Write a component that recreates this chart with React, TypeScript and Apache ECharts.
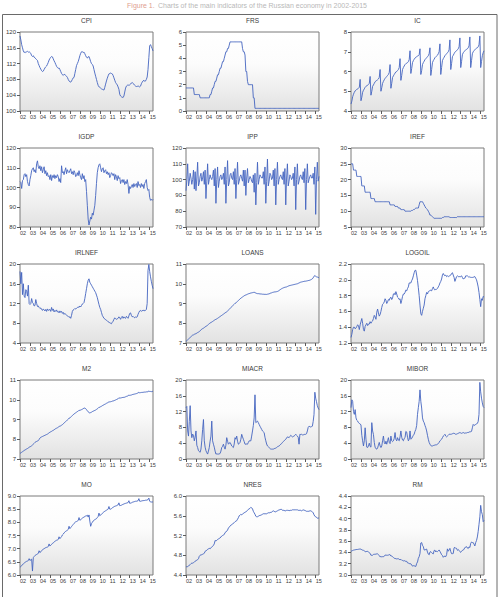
import React, { useEffect, useRef } from "react";
import * as echarts from "echarts";

// Monthly observations, 2002M01 .. 2015M05 (161 months per series)
const YEAR0 = 2002;

const CPI = [
  119.0, 118.0, 116.8, 116.0, 115.2, 114.8, 115.0, 114.8, 115.0, 115.1, 114.9, 115.0,
  114.8, 114.6, 114.0, 113.8, 114.0, 113.6, 113.5, 113.2, 113.0, 112.8, 112.0, 111.5,
  111.0, 110.6, 110.2, 110.0, 110.1, 110.5, 110.9, 111.2, 111.4, 111.8, 112.3, 112.9,
  113.3, 113.6, 113.8, 113.7, 113.2, 112.7, 112.3, 111.8, 111.3, 111.0, 110.8, 110.9,
  110.5, 110.0, 109.5, 109.2, 109.0, 109.3, 109.2, 109.0, 108.8, 108.5, 108.0, 107.6,
  107.4, 107.3, 107.6, 108.0, 108.4, 108.5, 109.5, 110.5, 111.5, 112.0, 112.5, 113.2,
  114.0, 114.6, 115.0, 115.0, 114.8, 114.9, 114.5, 114.0, 113.6, 113.4, 113.7, 113.8,
  113.2, 112.5, 112.0, 111.8, 111.4, 110.5, 109.6, 108.8, 108.0, 107.2, 106.5, 106.1,
  106.0, 105.8, 105.6, 105.5, 105.4, 105.3, 106.0, 106.8, 107.6, 108.3, 108.9, 109.4,
  109.5, 109.6, 109.5, 109.4, 109.0, 108.4, 107.8, 107.2, 106.9, 106.6, 106.1, 105.5,
  104.2, 103.8, 103.6, 103.5, 103.4, 103.8, 104.8, 105.8, 106.3, 106.5, 106.6, 106.5,
  106.6, 106.8, 107.1, 107.2, 107.0, 106.8, 106.5, 106.3, 106.2, 106.2, 106.4, 106.2,
  106.1, 106.3, 106.9, 107.3, 107.6, 107.8, 107.5, 107.6, 108.0, 108.6, 110.5, 113.5,
  116.5, 116.8, 116.3, 115.8, 115.2,
];

const FRS = [
  1.75, 1.75, 1.75, 1.75, 1.75, 1.75, 1.75, 1.75, 1.75, 1.75, 1.25, 1.25,
  1.25, 1.25, 1.25, 1.25, 1.25, 1.0, 1.0, 1.0, 1.0, 1.0, 1.0, 1.0,
  1.0, 1.0, 1.0, 1.0, 1.0, 1.25, 1.25, 1.5, 1.75, 1.75, 2.0, 2.25,
  2.25, 2.5, 2.75, 2.75, 3.0, 3.25, 3.25, 3.5, 3.75, 3.75, 4.0, 4.25,
  4.5, 4.5, 4.75, 4.75, 5.0, 5.25, 5.25, 5.25, 5.25, 5.25, 5.25, 5.25,
  5.25, 5.25, 5.25, 5.25, 5.25, 5.25, 5.25, 5.25, 4.75, 4.5, 4.5, 4.25,
  3.0, 3.0, 2.25, 2.0, 2.0, 2.0, 2.0, 2.0, 2.0, 1.0, 1.0, 0.2,
  0.2, 0.2, 0.2, 0.2, 0.2, 0.2, 0.2, 0.2, 0.2, 0.2, 0.2, 0.2,
  0.2, 0.2, 0.2, 0.2, 0.2, 0.2, 0.2, 0.2, 0.2, 0.2, 0.2, 0.2,
  0.2, 0.2, 0.2, 0.2, 0.2, 0.2, 0.2, 0.2, 0.2, 0.2, 0.2, 0.2,
  0.2, 0.2, 0.2, 0.2, 0.2, 0.2, 0.2, 0.2, 0.2, 0.2, 0.2, 0.2,
  0.2, 0.2, 0.2, 0.2, 0.2, 0.2, 0.2, 0.2, 0.2, 0.2, 0.2, 0.2,
  0.2, 0.2, 0.2, 0.2, 0.2, 0.2, 0.2, 0.2, 0.2, 0.2, 0.2, 0.2,
  0.2, 0.2, 0.2, 0.2, 0.2,
];

const IC = [
  4.35, 4.5, 4.72, 4.85, 4.95, 5.02, 5.05, 5.1, 5.12, 5.15, 5.2, 5.6,
  4.52, 4.7, 4.95, 5.05, 5.12, 5.2, 5.25, 5.28, 5.3, 5.35, 5.4, 5.75,
  4.8, 5.0, 5.25, 5.32, 5.4, 5.48, 5.52, 5.55, 5.58, 5.62, 5.7, 6.1,
  5.0, 5.18, 5.4, 5.5, 5.58, 5.65, 5.7, 5.75, 5.8, 5.85, 5.95, 6.35,
  5.15, 5.4, 5.7, 5.78, 5.85, 5.92, 5.98, 6.0, 6.05, 6.1, 6.2, 6.65,
  5.55, 5.8, 6.1, 6.2, 6.28, 6.35, 6.4, 6.42, 6.45, 6.5, 6.6, 7.05,
  5.9, 6.15, 6.45, 6.55, 6.62, 6.68, 6.72, 6.75, 6.78, 6.8, 6.85, 7.15,
  5.85, 6.05, 6.35, 6.45, 6.52, 6.6, 6.65, 6.7, 6.75, 6.8, 6.9, 7.2,
  5.8, 6.1, 6.45, 6.55, 6.62, 6.7, 6.75, 6.78, 6.82, 6.9, 7.0, 7.4,
  5.85, 6.2, 6.55, 6.65, 6.72, 6.8, 6.85, 6.9, 6.95, 7.0, 7.1, 7.6,
  6.1, 6.4, 6.75, 6.82, 6.9, 6.98, 7.02, 7.05, 7.1, 7.15, 7.25, 7.7,
  6.2, 6.5, 6.85, 6.95, 7.0, 7.05, 7.1, 7.12, 7.15, 7.2, 7.3, 7.75,
  6.2, 6.55, 6.9, 7.0, 7.05, 7.1, 7.15, 7.18, 7.2, 7.25, 7.35, 7.8,
  6.2, 6.5, 6.8, 6.95, 7.05,
];

const IGDP = [
  103.0, 102.5, 99.5, 103.5, 104.0, 106.5, 107.0, 105.5, 106.5, 103.0, 101.5, 100.8,
  104.0, 106.0, 108.5, 109.5, 110.0, 108.0, 109.0, 107.5, 112.0, 113.5, 110.5, 109.5,
  111.0, 108.5, 110.5, 107.5, 109.0, 110.5, 107.0, 108.5, 106.0, 107.5, 105.5, 106.0,
  104.0, 106.5, 103.5, 106.0, 105.0, 106.5, 104.5, 106.0, 105.0, 106.5, 105.5, 103.0,
  104.5, 102.5, 111.0, 107.5, 108.0, 106.5, 108.5, 110.0, 107.0, 109.0, 108.0, 107.5,
  108.5, 109.5, 107.0, 108.0, 106.5, 108.5, 107.5, 105.5, 106.0, 107.5, 106.0, 108.5,
  106.5, 105.0, 104.0, 107.0, 104.5, 106.0, 103.0, 104.0, 98.0, 91.0, 84.0, 81.0,
  83.0, 85.0, 84.0, 87.0, 86.0, 88.5, 91.0, 96.0, 102.0, 107.5, 110.0, 111.5,
  112.0, 110.0, 108.0, 109.5, 110.0, 107.5, 108.5, 109.0, 107.0, 108.0, 106.5, 107.5,
  105.0, 106.0, 107.5, 107.0, 106.0, 107.0, 104.0, 106.5, 105.5, 103.5, 106.0, 104.5,
  105.0, 102.0, 103.5, 104.0, 102.5, 104.0, 101.5, 103.0, 102.0, 104.0, 101.5, 97.0,
  100.5, 99.5, 100.5, 101.5, 100.0, 102.0, 100.5, 101.5, 102.0, 100.0, 103.0, 101.0,
  101.5, 100.0, 102.0, 100.5, 101.5, 99.5, 102.0, 103.0, 104.0, 100.0, 98.5, 99.0,
  95.0, 93.5, 94.0, 93.5, 94.0,
];

const IPP = [
  93, 100, 110, 96, 99, 104, 101, 97, 100, 106, 94, 105,
  93, 101, 111, 96, 98, 102, 104, 99, 101, 105, 97, 106,
  88, 99, 110, 97, 100, 103, 101, 100, 102, 106, 96, 107,
  85, 100, 108, 95, 99, 102, 103, 100, 101, 104, 97, 108,
  85, 100, 112, 96, 98, 103, 104, 101, 100, 105, 97, 107,
  88, 100, 111, 97, 99, 102, 103, 101, 99, 106, 96, 106,
  90, 101, 107, 98, 100, 102, 101, 99, 98, 103, 92, 104,
  84, 98, 111, 97, 100, 103, 102, 101, 101, 105, 97, 108,
  85, 99, 113, 96, 99, 104, 103, 100, 101, 106, 96, 107,
  84, 100, 111, 97, 100, 102, 103, 101, 100, 105, 97, 107,
  84, 101, 110, 96, 99, 103, 102, 100, 101, 104, 96, 108,
  81, 100, 110, 97, 99, 102, 103, 101, 100, 105, 98, 107,
  81, 100, 110, 98, 100, 102, 103, 101, 101, 104, 97, 108,
  78, 100, 111, 99, 102,
];

const IREF = [
  25, 25, 25, 23, 23, 23, 23, 21, 21, 21, 21, 21,
  21, 18, 18, 18, 18, 16, 16, 16, 16, 16, 16, 16,
  14, 14, 14, 14, 14, 13, 13, 13, 13, 13, 13, 13,
  13, 13, 13, 13, 13, 13, 13, 13, 13, 13, 13, 12,
  12, 12, 12, 12, 12, 11.5, 11.5, 11.5, 11.5, 11, 11, 11,
  10.5, 10.5, 10.5, 10.5, 10.5, 10, 10, 10, 10, 10, 10, 10,
  10, 10.25, 10.25, 10.5, 10.5, 10.75, 11, 11, 11, 11, 12, 13,
  13, 13, 13, 12.5, 12, 11.5, 11, 10.75, 10.5, 10, 9.5, 8.75,
  8.75, 8.5, 8.25, 8, 7.75, 7.75, 7.75, 7.75, 7.75, 7.75, 7.75, 7.75,
  7.75, 7.75, 8, 8, 8.25, 8.25, 8.25, 8.25, 8.25, 8.25, 8.25, 8,
  8, 8, 8, 8, 8, 8, 8, 8, 8.25, 8.25, 8.25, 8.25,
  8.25, 8.25, 8.25, 8.25, 8.25, 8.25, 8.25, 8.25, 8.25, 8.25, 8.25, 8.25,
  8.25, 8.25, 8.25, 8.25, 8.25, 8.25, 8.25, 8.25, 8.25, 8.25, 8.25, 8.25,
  8.25, 8.25, 8.25, 8.25, 8.25,
];

const IRLNEF = [
  18.5, 16.0, 18.3, 13.8, 16.0, 13.5, 13.2, 14.8, 14.5, 13.5, 15.7, 12.0,
  11.8, 12.0, 13.0, 12.2, 12.0, 11.5, 11.6, 12.8, 12.0, 11.4, 11.5, 11.2,
  11.0, 11.1, 10.8, 10.6, 10.9, 10.7, 10.5, 10.8, 10.4, 10.9, 10.6, 10.7,
  10.8, 10.4, 11.2, 10.6, 10.9, 10.3, 10.6, 10.4, 10.7, 10.3, 10.4, 10.1,
  10.5, 10.2, 10.4, 10.0, 10.2, 9.8, 10.0, 9.8, 9.6, 9.5, 9.4, 9.2,
  9.3, 9.0, 9.6, 10.4, 10.7, 10.8, 11.0, 10.9, 11.0, 11.2, 11.3, 11.2,
  11.5, 11.3, 11.6, 11.9, 12.0, 12.2, 13.0, 14.0, 15.0, 16.0, 16.7, 17.0,
  16.3, 16.0, 15.7, 15.4, 15.1, 14.8, 14.5, 14.2, 13.7, 13.2, 12.5, 11.8,
  11.2, 10.8, 10.2, 9.6, 9.3, 9.0, 8.9, 8.7, 8.6, 8.5, 8.3, 8.2,
  8.1, 8.0, 7.9, 8.2, 8.4, 8.8, 9.1, 8.9, 8.8, 8.9, 9.0, 9.3,
  9.1, 8.8, 9.2, 9.4, 9.0, 9.3, 9.1, 9.0, 9.4, 9.2, 9.0, 9.5,
  10.0, 10.1, 9.6, 9.3, 9.4, 9.2, 9.1, 9.3, 9.2, 9.3, 9.8, 10.2,
  10.5, 10.6, 10.4, 10.6, 10.5, 10.7, 10.5, 10.6, 10.8, 12.0, 18.7, 19.9,
  18.5, 17.4, 16.5, 15.7, 15.0,
];

const LOANS = [
  7.08, 7.12, 7.16, 7.2, 7.24, 7.28, 7.32, 7.36, 7.4, 7.41, 7.44, 7.46,
  7.47, 7.5, 7.53, 7.55, 7.58, 7.62, 7.66, 7.7, 7.73, 7.75, 7.78, 7.82,
  7.84, 7.87, 7.9, 7.94, 7.98, 8.01, 8.04, 8.06, 8.09, 8.12, 8.15, 8.18,
  8.2, 8.22, 8.25, 8.28, 8.31, 8.34, 8.37, 8.4, 8.43, 8.46, 8.49, 8.53,
  8.55, 8.58, 8.62, 8.66, 8.7, 8.75, 8.8, 8.84, 8.88, 8.92, 8.96, 9.01,
  9.03, 9.07, 9.11, 9.15, 9.19, 9.23, 9.27, 9.3, 9.33, 9.36, 9.39, 9.42,
  9.43, 9.45, 9.47, 9.49, 9.5, 9.52, 9.53, 9.54, 9.55, 9.56, 9.57, 9.55,
  9.53, 9.51, 9.5, 9.5, 9.49, 9.49, 9.48, 9.48, 9.47, 9.47, 9.46, 9.47,
  9.46, 9.46, 9.47, 9.48, 9.49, 9.51, 9.53, 9.54, 9.56, 9.57, 9.58, 9.59,
  9.59, 9.6, 9.61, 9.63, 9.66, 9.69, 9.72, 9.75, 9.77, 9.79, 9.81, 9.82,
  9.83, 9.84, 9.86, 9.88, 9.9, 9.91, 9.92, 9.93, 9.94, 9.95, 9.96, 9.97,
  9.98, 9.99, 10.0, 10.02, 10.04, 10.06, 10.08, 10.09, 10.1, 10.11, 10.12, 10.13,
  10.13, 10.14, 10.15, 10.16, 10.17, 10.18, 10.2, 10.22, 10.25, 10.3, 10.38, 10.41,
  10.38, 10.35, 10.34, 10.32, 10.31,
];

const LOGOIL = [
  1.27, 1.31, 1.37, 1.4, 1.4, 1.38, 1.39, 1.41, 1.43, 1.42, 1.37, 1.43,
  1.47, 1.51, 1.45, 1.37, 1.35, 1.41, 1.43, 1.45, 1.42, 1.44, 1.44, 1.47,
  1.45, 1.47, 1.48, 1.51, 1.55, 1.53, 1.5, 1.59, 1.63, 1.58, 1.54, 1.56,
  1.6, 1.65, 1.69, 1.7, 1.72, 1.76, 1.74, 1.7, 1.72, 1.75, 1.74, 1.77,
  1.78, 1.75, 1.77, 1.82, 1.83, 1.81, 1.85, 1.82, 1.78, 1.77, 1.75, 1.76,
  1.7, 1.74, 1.79, 1.82, 1.82, 1.84, 1.87, 1.86, 1.89, 1.91, 1.96, 1.96,
  1.96, 1.99, 2.01, 2.05, 2.09, 2.12, 2.12, 2.06, 1.99, 1.9, 1.8, 1.68,
  1.57, 1.55, 1.6, 1.64, 1.68, 1.76, 1.8, 1.84, 1.82, 1.85, 1.86, 1.86,
  1.87, 1.86, 1.89, 1.91, 1.88, 1.87, 1.88, 1.88, 1.89, 1.91, 1.93, 1.96,
  1.98, 2.01, 2.06, 2.08, 2.06, 2.05, 2.06, 2.04, 2.05, 2.04, 2.05, 2.05,
  2.06, 2.08, 2.09, 2.06, 2.03, 1.98, 2.01, 2.04, 2.05, 2.04, 2.04, 2.04,
  2.04, 2.05, 2.03, 2.01, 2.02, 2.02, 2.05, 2.05, 2.05, 2.04, 2.03, 2.04,
  2.03, 2.03, 2.03, 2.03, 2.04, 2.04, 2.02, 2.0, 1.96, 1.91, 1.84, 1.75,
  1.66, 1.76, 1.74, 1.79, 1.78,
];

const M2 = [
  7.28, 7.31, 7.34, 7.37, 7.4, 7.43, 7.46, 7.48, 7.51, 7.53, 7.56, 7.6,
  7.61, 7.64, 7.67, 7.71, 7.75, 7.79, 7.84, 7.87, 7.89, 7.91, 7.93, 7.99,
  8.06, 8.1, 8.12, 8.14, 8.16, 8.18, 8.2, 8.22, 8.24, 8.26, 8.29, 8.33,
  8.35, 8.38, 8.4, 8.43, 8.45, 8.48, 8.51, 8.54, 8.56, 8.58, 8.61, 8.65,
  8.66, 8.68, 8.71, 8.74, 8.78, 8.82, 8.86, 8.9, 8.94, 8.97, 9.01, 9.07,
  9.08, 9.12, 9.16, 9.2, 9.24, 9.28, 9.31, 9.34, 9.37, 9.4, 9.42, 9.47,
  9.46, 9.48, 9.5, 9.52, 9.55, 9.57, 9.58, 9.55, 9.5, 9.44, 9.39, 9.35,
  9.33, 9.35, 9.37, 9.4, 9.42, 9.44, 9.46, 9.48, 9.51, 9.54, 9.57, 9.62,
  9.62, 9.65, 9.67, 9.7, 9.72, 9.75, 9.77, 9.79, 9.82, 9.84, 9.86, 9.9,
  9.89, 9.9, 9.91, 9.93, 9.94, 9.95, 9.97, 9.99, 10.01, 10.03, 10.05, 10.1,
  10.08, 10.09, 10.1, 10.11, 10.12, 10.12, 10.13, 10.15, 10.17, 10.18, 10.2, 10.24,
  10.22, 10.23, 10.24, 10.26, 10.27, 10.28, 10.29, 10.3, 10.31, 10.33, 10.34, 10.38,
  10.35, 10.36, 10.37, 10.37, 10.38, 10.38, 10.39, 10.39, 10.4, 10.4, 10.41, 10.44,
  10.42, 10.42, 10.41, 10.42, 10.43,
];

const MIACR = [
  13.0, 13.3, 7.1, 5.8, 9.5, 13.5, 7.1, 5.4, 6.3, 6.0, 4.6, 5.5,
  7.1, 3.5, 2.9, 2.1, 1.9, 1.7, 2.5, 4.6, 7.5, 10.0, 4.6, 3.0,
  2.1, 1.6, 1.25, 2.0, 2.9, 4.5, 5.8, 9.6, 4.6, 3.75, 3.0, 2.0,
  1.25, 1.3, 1.25, 1.25, 1.3, 1.4, 2.0, 2.9, 3.2, 3.75, 3.0, 2.5,
  3.5, 5.4, 4.5, 3.75, 4.0, 4.2, 3.8, 3.3, 3.1, 2.9, 3.8, 5.4,
  5.0, 5.8, 4.5, 3.75, 3.9, 4.2, 5.0, 6.25, 5.6, 5.0, 4.4, 3.75,
  3.75, 3.8, 3.75, 4.2, 4.6, 4.6, 4.6, 5.8, 7.1, 8.5, 10.4, 16.25,
  9.2, 9.4, 9.6, 9.2, 8.75, 8.3, 7.9, 7.5, 7.1, 6.9, 6.7, 5.5,
  4.6, 3.8, 3.3, 3.1, 2.9, 2.7, 2.5, 2.5, 2.5, 2.5, 2.6, 2.7,
  2.75, 2.9, 3.1, 3.2, 3.3, 3.5, 3.75, 3.9, 4.2, 4.4, 4.6, 4.8,
  5.0, 5.3, 5.6, 5.5, 5.4, 5.7, 6.0, 5.8, 5.6, 5.7, 5.8, 6.0,
  6.25, 6.0, 5.8, 5.5, 3.75, 6.25, 6.2, 6.25, 6.1, 6.1, 6.2, 6.25,
  6.25, 6.4, 7.1, 8.0, 8.3, 8.2, 8.1, 8.2, 8.3, 9.5, 11.25, 16.9,
  15.4, 14.5, 13.5, 12.9, 12.5,
];

const MIBOR = [
  13.0, 15.0, 14.6, 12.0, 11.3, 12.5, 10.4, 9.8, 9.6, 9.2, 9.0, 8.9,
  8.6, 6.0, 4.6, 3.3, 4.6, 7.9, 5.0, 3.0, 2.9, 3.3, 4.0, 3.2,
  3.0, 9.2, 7.1, 6.2, 4.2, 3.0, 2.6, 2.5, 2.8, 3.5, 4.2, 3.3,
  2.9, 3.3, 4.6, 5.8, 4.2, 3.8, 4.5, 3.75, 4.6, 5.4, 4.2, 3.9,
  5.8, 4.6, 4.4, 4.6, 5.2, 6.7, 5.0, 4.6, 5.4, 4.8, 4.6, 5.6,
  7.1, 5.5, 4.8, 4.6, 5.2, 5.4, 7.0, 6.8, 5.5, 4.6, 5.0, 7.1,
  5.0, 5.2, 5.6, 6.0, 6.3, 7.0, 7.5, 8.5, 11.3, 13.0, 14.6, 17.5,
  14.6, 12.9, 10.4, 9.6, 9.2, 8.5, 7.9, 7.1, 6.0, 5.0, 4.2, 3.75,
  3.4, 3.3, 3.3, 3.4, 3.5, 3.5, 3.6, 3.6, 3.75, 3.9, 4.2, 4.6,
  4.8, 5.0, 5.4, 5.8, 6.0, 6.25, 5.8, 5.6, 5.8, 6.0, 6.25, 6.3,
  6.25, 6.3, 6.4, 6.5, 6.5, 6.4, 6.25, 6.3, 6.4, 6.5, 6.6, 6.7,
  6.6, 6.5, 6.6, 6.7, 6.6, 6.5, 6.6, 6.6, 6.7, 6.7, 6.8, 6.9,
  6.9, 7.0, 7.9, 8.75, 8.5, 8.6, 8.75, 8.9, 9.0, 9.5, 11.3, 19.4,
  17.0, 15.4, 14.2, 13.3, 13.0,
];

const MO = [
  6.3, 6.32, 6.35, 6.4, 6.42, 6.45, 6.48, 6.5, 6.52, 6.53, 6.55, 6.62,
  6.55, 6.58, 6.6, 6.15, 6.66, 6.7, 6.74, 6.76, 6.78, 6.8, 6.82, 6.92,
  6.85, 6.88, 6.92, 6.96, 6.98, 7.0, 7.02, 7.04, 7.05, 7.06, 7.08, 7.18,
  7.1, 7.13, 7.16, 7.2, 7.22, 7.25, 7.28, 7.3, 7.32, 7.33, 7.35, 7.45,
  7.38, 7.42, 7.46, 7.52, 7.55, 7.6, 7.63, 7.66, 7.68, 7.7, 7.73, 7.85,
  7.76, 7.8, 7.84, 7.88, 7.92, 7.96, 7.99, 8.02, 8.03, 8.05, 8.07, 8.18,
  8.08, 8.1, 8.13, 8.16, 8.18, 8.2, 8.22, 8.24, 8.25, 8.27, 8.2, 8.28,
  8.05, 7.85, 7.95, 8.0, 8.05, 8.08, 8.1, 8.12, 8.14, 8.18, 8.22, 8.35,
  8.25, 8.28, 8.3, 8.34, 8.37, 8.4, 8.42, 8.44, 8.46, 8.48, 8.5, 8.6,
  8.5, 8.5, 8.52, 8.55, 8.57, 8.59, 8.61, 8.62, 8.63, 8.65, 8.66, 8.74,
  8.63, 8.64, 8.65, 8.67, 8.68, 8.7, 8.71, 8.72, 8.73, 8.74, 8.75, 8.82,
  8.72, 8.73, 8.74, 8.76, 8.77, 8.78, 8.79, 8.8, 8.8, 8.81, 8.82, 8.9,
  8.8, 8.8, 8.81, 8.82, 8.82, 8.83, 8.83, 8.84, 8.84, 8.85, 8.86, 8.92,
  8.8, 8.78, 8.77, 8.78, 8.76,
];

const NRES = [
  4.56, 4.57, 4.57, 4.58, 4.6, 4.61, 4.63, 4.64, 4.64, 4.65, 4.66, 4.68,
  4.69, 4.7, 4.71, 4.73, 4.78, 4.8, 4.81, 4.81, 4.82, 4.83, 4.84, 4.88,
  4.89, 4.9, 4.92, 4.93, 4.94, 4.93, 4.95, 4.97, 4.98, 5.0, 5.03, 5.1,
  5.09, 5.1, 5.12, 5.13, 5.14, 5.15, 5.17, 5.19, 5.2, 5.21, 5.22, 5.26,
  5.27, 5.29, 5.31, 5.35, 5.37, 5.39, 5.41, 5.42, 5.43, 5.45, 5.46, 5.48,
  5.49, 5.5, 5.53, 5.56, 5.6, 5.61, 5.63, 5.62, 5.63, 5.65, 5.66, 5.67,
  5.68, 5.69, 5.71, 5.73, 5.74, 5.75, 5.77, 5.76, 5.74, 5.69, 5.66, 5.63,
  5.59, 5.58, 5.58, 5.59, 5.6, 5.61, 5.61, 5.62, 5.63, 5.64, 5.64, 5.64,
  5.64, 5.64, 5.65, 5.66, 5.66, 5.66, 5.67, 5.67, 5.69, 5.7, 5.69, 5.68,
  5.68, 5.69, 5.7, 5.71, 5.72, 5.72, 5.73, 5.73, 5.71, 5.71, 5.71, 5.7,
  5.7, 5.71, 5.71, 5.71, 5.7, 5.71, 5.71, 5.71, 5.72, 5.72, 5.72, 5.72,
  5.72, 5.72, 5.72, 5.71, 5.71, 5.71, 5.71, 5.7, 5.71, 5.72, 5.71, 5.71,
  5.7, 5.69, 5.69, 5.69, 5.69, 5.7, 5.7, 5.69, 5.68, 5.66, 5.62, 5.59,
  5.58, 5.57, 5.55, 5.55, 5.56,
];

const RM = [
  3.418, 3.428, 3.434, 3.44, 3.444, 3.447, 3.45, 3.453, 3.453, 3.456, 3.459, 3.459,
  3.459, 3.447, 3.44, 3.437, 3.428, 3.414, 3.414, 3.418, 3.421, 3.405, 3.395, 3.384,
  3.35, 3.35, 3.35, 3.364, 3.367, 3.367, 3.371, 3.374, 3.374, 3.36, 3.346, 3.321,
  3.329, 3.321, 3.325, 3.325, 3.332, 3.353, 3.353, 3.35, 3.35, 3.353, 3.36, 3.36,
  3.336, 3.336, 3.325, 3.311, 3.296, 3.296, 3.288, 3.285, 3.288, 3.288, 3.277, 3.27,
  3.277, 3.262, 3.258, 3.25, 3.254, 3.25, 3.239, 3.243, 3.215, 3.211, 3.203, 3.199,
  3.199, 3.178, 3.157, 3.165, 3.165, 3.153, 3.153, 3.203, 3.231, 3.296, 3.325, 3.381,
  3.567, 3.575, 3.526, 3.503, 3.444, 3.444, 3.453, 3.459, 3.405, 3.371, 3.357, 3.408,
  3.414, 3.398, 3.381, 3.374, 3.434, 3.44, 3.408, 3.424, 3.414, 3.428, 3.444, 3.418,
  3.391, 3.36, 3.346, 3.314, 3.332, 3.332, 3.325, 3.36, 3.463, 3.421, 3.444, 3.472,
  3.414, 3.378, 3.378, 3.381, 3.481, 3.49, 3.472, 3.472, 3.437, 3.45, 3.437, 3.414,
  3.401, 3.421, 3.437, 3.44, 3.459, 3.487, 3.493, 3.503, 3.478, 3.469, 3.5, 3.487,
  3.561, 3.584, 3.575, 3.575, 3.547, 3.515, 3.575, 3.611, 3.674, 3.77, 3.898, 4.031,
  4.234, 4.122, 4.069, 3.945, 3.968,
];

type Panel = { title: string; values: number[]; min: number; max: number; step: number; decimals: number };

const PANELS: Panel[] = [
  { title: "CPI", values: CPI, min: 100, max: 120, step: 4, decimals: 0 },
  { title: "FRS", values: FRS, min: 0, max: 6, step: 1, decimals: 0 },
  { title: "IC", values: IC, min: 4, max: 8, step: 1, decimals: 0 },
  { title: "IGDP", values: IGDP, min: 80, max: 120, step: 10, decimals: 0 },
  { title: "IPP", values: IPP, min: 70, max: 120, step: 10, decimals: 0 },
  { title: "IREF", values: IREF, min: 5, max: 30, step: 5, decimals: 0 },
  { title: "IRLNEF", values: IRLNEF, min: 4, max: 20, step: 4, decimals: 0 },
  { title: "LOANS", values: LOANS, min: 7, max: 11, step: 1, decimals: 0 },
  { title: "LOGOIL", values: LOGOIL, min: 1.2, max: 2.2, step: 0.2, decimals: 1 },
  { title: "M2", values: M2, min: 7, max: 11, step: 1, decimals: 0 },
  { title: "MIACR", values: MIACR, min: 0, max: 20, step: 4, decimals: 0 },
  { title: "MIBOR", values: MIBOR, min: 0, max: 20, step: 4, decimals: 0 },
  { title: "MO", values: MO, min: 6, max: 9, step: 0.5, decimals: 1 },
  { title: "NRES", values: NRES, min: 4.4, max: 6, step: 0.4, decimals: 1 },
  { title: "RM", values: RM, min: 3, max: 4.4, step: 0.2, decimals: 1 },
];

// layout of the 3 x 5 panel grid
const COL_LEFT = [20, 186, 351];
const ROW_TOP = [32, 148, 264, 380, 496];
const PLOT_W = 133;
const PLOT_H = 79;

const FONT = "'Liberation Sans', Arial, sans-serif";
const LINE_COLOR = "#4464c0";
const AXIS_COLOR = "#5a5a5a";
const TEXT_COLOR = "#3a3a3a";

const toPoints = (values: number[]) => values.map((v, i) => [YEAR0 + i / 12, v]);

const yearLabel = (v: number) => {
  const r = Math.round(v);
  return Math.abs(v - r) < 1e-6 ? String(r).slice(2) : "";
};

function buildOption(): echarts.EChartsOption {
  const lastX = YEAR0 + (CPI.length - 1) / 12;

  const grids = PANELS.map((_, i) => ({
    left: COL_LEFT[i % 3],
    top: ROW_TOP[Math.floor(i / 3)],
    width: PLOT_W,
    height: PLOT_H,
    show: true,
    borderColor: "#7a7a7a",
    borderWidth: 1,
    backgroundColor: new echarts.graphic.LinearGradient(0, 0, 0, 1, [
      { offset: 0, color: "#ffffff" },
      { offset: 0.4, color: "#fcfcfc" },
      { offset: 1, color: "#e2e2e2" },
    ]),
  }));

  const xAxes = PANELS.map((_, i) => ({
    type: "value" as const,
    gridIndex: i,
    min: YEAR0,
    max: lastX,
    interval: 1,
    axisLine: { show: false },
    splitLine: { show: false },
    axisTick: { show: true, length: 3, lineStyle: { color: AXIS_COLOR, width: 1 } },
    axisLabel: {
      show: true,
      showMinLabel: true,
      showMaxLabel: false,
      align: "left" as const,
      margin: 3,
      fontSize: 5.5,
      fontFamily: FONT,
      color: TEXT_COLOR,
      formatter: yearLabel,
    },
  }));

  const yAxes = PANELS.map((p, i) => ({
    type: "value" as const,
    gridIndex: i,
    min: p.min,
    max: p.max,
    interval: p.step,
    axisLine: { show: false },
    splitLine: { show: false },
    axisTick: { show: true, length: 3, lineStyle: { color: AXIS_COLOR, width: 1 } },
    axisLabel: {
      show: true,
      showMinLabel: true,
      showMaxLabel: true,
      margin: 4,
      fontSize: 6,
      fontFamily: FONT,
      color: TEXT_COLOR,
      formatter: (v: number) => v.toFixed(p.decimals),
    },
  }));

  const series = PANELS.map((p, i) => ({
    type: "line" as const,
    name: p.title,
    xAxisIndex: i,
    yAxisIndex: i,
    data: toPoints(p.values),
    showSymbol: false,
    symbol: "none",
    silent: true,
    clip: true,
    lineStyle: { color: LINE_COLOR, width: 0.9 },
  }));

  const titles = PANELS.map((p, i) => ({
    type: "text" as const,
    x: COL_LEFT[i % 3] + PLOT_W / 2,
    y: ROW_TOP[Math.floor(i / 3)] - 12,
    style: {
      text: p.title,
      fill: TEXT_COLOR,
      font: `6.5px ${FONT}`,
      textAlign: "center" as const,
      textVerticalAlign: "middle" as const,
    },
  }));

  return {
    animation: false,
    backgroundColor: "#ffffff",
    grid: grids,
    xAxis: xAxes,
    yAxis: yAxes,
    series,
    graphic: [
      {
        type: "rect",
        shape: { x: 2.5, y: 14.5, width: 494.5, height: 600 },
        style: { fill: "none", stroke: "#6a6a6a", lineWidth: 1 },
        silent: true,
      },
      {
        type: "text",
        x: 247,
        y: 5,
        style: {
          text: "{r|Figure 1.} {g|Charts of the main indicators of the Russian economy in 2002-2015}",
          textAlign: "center",
          textVerticalAlign: "middle",
          rich: {
            r: { fill: "#e0a090", font: `7px ${FONT}` },
            g: { fill: "#b8b8b8", font: `7px ${FONT}` },
          },
        },
        silent: true,
      },
      ...titles,
    ],
  } as echarts.EChartsOption;
}

export default function App() {
  const ref = useRef<HTMLDivElement | null>(null);

  useEffect(() => {
    if (!ref.current) return;
    const chart = echarts.init(ref.current, undefined, { renderer: "svg" });
    chart.setOption(buildOption());
    return () => chart.dispose();
  }, []);

  return (
    <div
      ref={ref}
      style={{ position: "absolute", left: 0, top: 0, width: 501, height: 597, background: "#ffffff" }}
    />
  );
}
